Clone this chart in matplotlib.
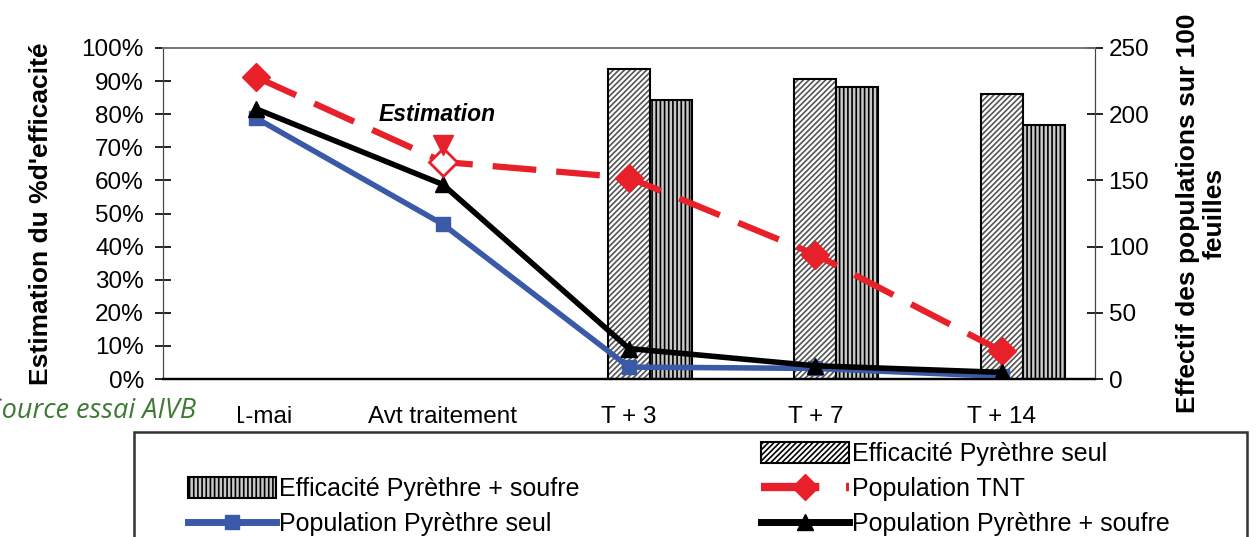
import numpy as np
import matplotlib
matplotlib.use("Agg")
import matplotlib.pyplot as plt
from matplotlib.patches import Patch, Rectangle
from matplotlib.lines import Line2D
from matplotlib.ticker import PercentFormatter

plt.rcParams["font.family"] = ["Liberation Sans", "DejaVu Sans"]
plt.rcParams["hatch.linewidth"] = 1.2

# données
categories = ["11-mai", "Avt traitement", "T + 3", "T + 7", "T + 14"]
eff_pyr_seul = [np.nan, np.nan, 93.7, 90.6, 86.1]      # % efficacité
eff_pyr_soufre = [np.nan, np.nan, 84.3, 88.2, 76.7]
pop_tnt = [228, 164, 152, 94, 21]                       # individus / 100 feuilles
pop_pyr_seul = [197, 117, 9, 8, 2]
pop_pyr_soufre = [204, 147, 23, 10, 5]

red = "#e8202a"
blue = "#3a5aa8"

fig = plt.figure(figsize=(12.58, 5.37), dpi=100)
ax = fig.add_axes([163 / 1258, 1 - 379 / 537, 932 / 1258, 331 / 537])
ax2 = ax.twinx()

x = np.arange(len(categories))
w = 0.225

# barres (axe gauche)
ax.bar(x, eff_pyr_seul, w, color="white", edgecolor="#555555", hatch="//////", linewidth=0)
ax.bar(x, eff_pyr_seul, w, fill=False, edgecolor="black", linewidth=1.5)
ax.bar(x + w, eff_pyr_soufre, w, color="#c8c8c8", edgecolor="black", hatch="||||", linewidth=0)
ax.bar(x + w, eff_pyr_soufre, w, fill=False, edgecolor="black", linewidth=1.5)

ax.set_xlim(-0.5, len(categories) - 0.5)
ax.set_ylim(0, 100)
ax.set_yticks(np.arange(0, 101, 10))
ax.yaxis.set_major_formatter(PercentFormatter(decimals=0))
ax.set_xticks(x)
ax.set_xticklabels(categories)
ax.tick_params(axis="x", length=0, pad=19.5, labelsize=17.5)
ax.tick_params(axis="y", direction="inout", length=11.5, width=1.2, pad=8, labelsize=17.5)

# courbes (axe droit)
ax2.plot(x, pop_tnt, color=red, lw=4.5, dashes=(7, 3.2), marker="D", ms=14,
         markerfacecolor=red, markeredgecolor=red, zorder=3)
ax2.plot(x[1], pop_tnt[1], marker="D", ms=14, markerfacecolor="white",
         markeredgecolor=red, markeredgewidth=2, zorder=4)
ax2.plot(x[1], pop_tnt[1] + 13, marker="v", ms=15, color=red, zorder=4)
ax2.text(x[1] - 0.03, pop_tnt[1] + 36, "Estimation", ha="center", va="center",
         fontsize=16.5, fontweight="bold", fontstyle="italic")
ax2.plot(x, pop_pyr_soufre, color="black", lw=4, marker="^", ms=11, zorder=3)
ax2.plot(x, pop_pyr_seul, color=blue, lw=4, marker="s", ms=10, zorder=2)
ax2.set_ylim(0, 250)
ax2.set_yticks(np.arange(0, 251, 50))
ax2.tick_params(axis="y", direction="inout", length=11.5, width=1.2, pad=4, labelsize=17.5)

for a in (ax, ax2):
    a.spines["top"].set_color("#777777")
    a.spines["top"].set_linewidth(1.2)
    a.spines["right"].set_color("#444444")
    a.spines["left"].set_color("#444444")
    a.spines["bottom"].set_linewidth(1.6)

ax.set_ylabel("Estimation du %d'efficacité", fontsize=19, fontweight="bold")
ax.yaxis.set_label_coords(-0.118, 0.5)
ax2.set_ylabel("Effectif des populations sur 100\nfeuilles", fontsize=19,
               fontweight="bold", rotation=90, linespacing=1.15, ha="center")
ax2.yaxis.set_label_coords(1.087, 0.5)

# source (recouvre en partie la première étiquette)
fig.patches.append(Rectangle((0, 1 - 428 / 537), 238 / 1258, 30 / 537,
                             transform=fig.transFigure, facecolor="white",
                             edgecolor="none", zorder=5))
fig.text(196 / 1258, 1 - 411 / 537, "Source essai AIVB", ha="right", va="center",
         fontsize=19.5, fontstyle="italic", color="#3d7a33", zorder=6,
         family=["Open Sans", "DejaVu Sans"])

# légende
handles = [
    Patch(facecolor="none", edgecolor="none"),
    Patch(facecolor="#c8c8c8", edgecolor="black", hatch="||||", linewidth=1.5),
    Line2D([], [], color=blue, lw=5, marker="s", ms=10),
    Patch(facecolor="white", edgecolor="black", hatch="//////", linewidth=1.5),
    Line2D([], [], color=red, lw=6, dashes=(7, 3.2), marker="D", ms=13),
    Line2D([], [], color="black", lw=5, marker="^", ms=11),
]
labels = ["", "Efficacité Pyrèthre + soufre", "Population Pyrèthre seul",
          "Efficacité Pyrèthre seul", "Population TNT", "Population Pyrèthre + soufre"]
fig.legend(handles, labels, ncol=2, mode="expand", frameon=False,
           bbox_to_anchor=(188 / 1258, 1 - 442 / 537 - 0.2, (1170 - 188) / 1258, 0.2),
           loc="upper left", borderpad=0, borderaxespad=0, fontsize=18,
           handlelength=3.5, handleheight=0.9, handletextpad=0.15, labelspacing=0.45)
fig.patches.append(Rectangle((134 / 1258, -0.05), (1247 - 134) / 1258, 1 - 432 / 537 + 0.05,
                             transform=fig.transFigure, fill=False, edgecolor="#333333",
                             linewidth=1.8))

fig.savefig("out.png", dpi=100)
